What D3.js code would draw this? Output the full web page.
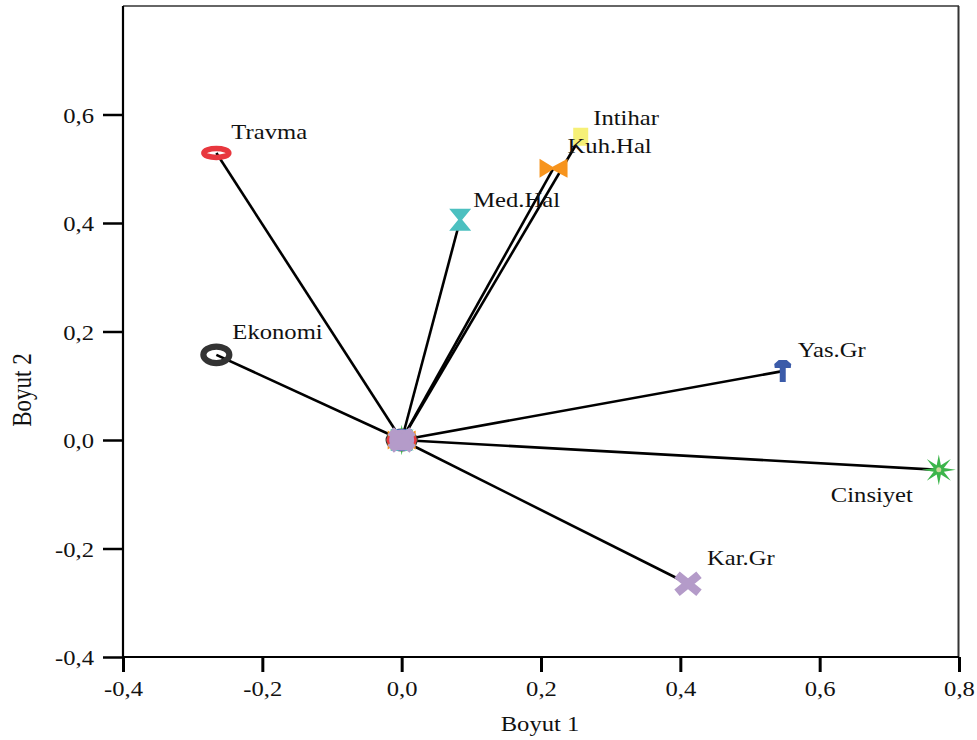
<!DOCTYPE html>
<html>
<head>
<meta charset="utf-8">
<script src="https://cdn.jsdelivr.net/npm/d3@7"></script>
<style>
  html, body { margin: 0; padding: 0; background: #fff; }
  svg { display: block; }
  text { font-family: "Liberation Serif", "Times New Roman", serif; fill: #111; }
</style>
</head>
<body>
<svg id="chart" width="977" height="740"></svg>
<script>
// Variable loadings on the two dimensions
const variables = ["Travma", "Ekonomi", "Med.Hal", "Kuh.Hal", "Intihar", "Yas.Gr", "Cinsiyet", "Kar.Gr"];
const dim1 = [-0.266, -0.266, 0.084, 0.218, 0.257, 0.547, 0.771, 0.411];
const dim2 = [0.529, 0.157, 0.406, 0.501, 0.559, 0.127, -0.055, -0.265];

const xTicks = [-0.4, -0.2, 0.0, 0.2, 0.4, 0.6, 0.8];
const yTicks = [-0.4, -0.2, 0.0, 0.2, 0.4, 0.6];
const xTitle = "Boyut 1";
const yTitle = "Boyut 2";

const svg = d3.select("#chart");
const plotL = 123, plotR = 959, plotT = 6, plotB = 657;
const x = d3.scaleLinear().domain([-0.4, 0.8]).range([plotL, plotR]);
const y = d3.scaleLinear().domain([-0.4, 0.8]).range([plotB, plotT]);

const locale = d3.formatLocale({ decimal: ",", thousands: ".", grouping: [3], currency: ["", ""], minus: "-" });
const fmt = locale.format(".1f");
const TX = 1.12; // horizontal widening of the serif lettering

// Frame: top and right edges
svg.append("line").attr("x1", plotL).attr("x2", plotR).attr("y1", plotT).attr("y2", plotT)
  .attr("stroke", "#666").attr("stroke-width", 2);
svg.append("line").attr("x1", plotR - 0.5).attr("x2", plotR - 0.5).attr("y1", plotT).attr("y2", plotB)
  .attr("stroke", "#333").attr("stroke-width", 2);

// Axes
const gx = svg.append("g").attr("transform", `translate(0,${plotB})`)
  .call(d3.axisBottom(x).tickValues(xTicks).tickFormat(fmt).tickSize(15).tickSizeOuter(0));
const gy = svg.append("g").attr("transform", `translate(${plotL},0)`)
  .call(d3.axisLeft(y).tickValues(yTicks).tickFormat(fmt).tickSize(20).tickSizeOuter(0));

gx.select(".domain").attr("stroke", "#000").attr("stroke-width", 2.2).attr("d", `M${plotL},0H${plotR}`);
gy.select(".domain").attr("stroke", "#000").attr("stroke-width", 2.2).attr("d", `M0,${plotT}V${plotB}`);
gx.selectAll(".tick line").attr("stroke", "#000").attr("stroke-width", 3);
gy.selectAll(".tick line").attr("stroke", "#000").attr("stroke-width", 2.5);
gx.selectAll(".tick text").attr("y", 39).attr("dy", null)
  .attr("transform", `scale(${TX},1)`).attr("font-size", 22)
  .style("font-family", "'Liberation Serif', serif").attr("fill", "#111");
gy.selectAll(".tick text").attr("x", -29 / TX).attr("y", 7.5).attr("dy", null)
  .attr("transform", `scale(${TX},1)`).attr("font-size", 22)
  .style("font-family", "'Liberation Serif', serif").attr("fill", "#111");

// Axis titles
svg.append("text").attr("transform", `translate(540,731) scale(${TX},1)`)
  .attr("text-anchor", "middle").attr("font-size", 22).text(xTitle);
svg.append("text").attr("transform", "translate(31,390) rotate(-90) scale(1,1.15)")
  .attr("text-anchor", "middle").attr("font-size", 23).text(yTitle);

// Vectors from the origin to each variable
const idx = d3.range(variables.length);
svg.append("g").selectAll("line").data(idx).join("line")
  .attr("x1", x(0)).attr("y1", y(0))
  .attr("x2", i => x(dim1[i])).attr("y2", i => y(dim2[i]))
  .attr("stroke", "#000").attr("stroke-width", 2.6);

// Marker drawings per variable
function starPath(ro, ri, sx, sy, n) {
  const pts = d3.range(n * 2).map(k => {
    const a = -Math.PI / 2 + k * Math.PI / n;
    const r = k % 2 === 0 ? ro : ri;
    return [Math.cos(a) * r * sx, Math.sin(a) * r * sy];
  });
  return "M" + pts.map(p => p.join(",")).join("L") + "Z";
}
const markers = {
  "Travma": g => g.append("ellipse").attr("rx", 12.5).attr("ry", 4.5)
    .attr("fill", "none").attr("stroke", "#e8373e").attr("stroke-width", 5.5),
  "Ekonomi": g => g.append("ellipse").attr("rx", 13).attr("ry", 8.3)
    .attr("fill", "none").attr("stroke", "#333").attr("stroke-width", 6.2),
  "Med.Hal": g => g.append("path").attr("d", "M-11,-11L11,-11L2,0L11,11L-11,11L-2,0Z").attr("fill", "#4cc0c0"),
  "Kuh.Hal": g => g.append("path").attr("d", "M-14,-9.5L-1,-1.5L14,-9.5L14,9.5L-1,1.5L-14,9.5Z").attr("fill", "#f7941d"),
  "Intihar": g => g.append("rect").attr("x", -7.5).attr("y", -9).attr("width", 15).attr("height", 18).attr("fill", "#f6f077"),
  "Yas.Gr": g => g.append("path")
    .attr("d", "M-3,11L-3,-3L-8,-3L-8.5,-7L-4,-11L4,-11L8.5,-7L8,-3L3,-3L3,11Z").attr("fill", "#3b5ba9"),
  "Cinsiyet": g => {
    g.append("path").attr("d", starPath(17, 5.5, 1, 0.9, 8)).attr("fill", "#3cb54a");
    g.append("circle").attr("r", 2.5).attr("fill", "#c9d79a");
  },
  "Kar.Gr": (g, w = 8.5) => {
    g.append("path").attr("d", "M-11,-9L11,9M-11,9L11,-9")
      .attr("stroke", "#b49bc9").attr("stroke-width", w).attr("fill", "none");
  }
};

// Markers stacked at the origin (purple cross drawn last, on top)
const originOrder = ["Ekonomi", "Med.Hal", "Intihar", "Kuh.Hal", "Cinsiyet", "Yas.Gr", "Travma"];
const originLayer = svg.append("g").attr("transform", `translate(${x(0)},${y(0)})`);
originOrder.forEach(v => markers[v](originLayer.append("g")));
originLayer.append("ellipse").attr("rx", 12.5).attr("ry", 10.5).attr("fill", "#b49bc9");
markers["Kar.Gr"](originLayer.append("g"), 10);

// Markers at the variable coordinates
idx.forEach(i => {
  const g = svg.append("g").attr("transform", `translate(${x(dim1[i])},${y(dim2[i])})`);
  markers[variables[i]](g);
});

// Labels
const labelOffset = {
  "Travma": [15, -14], "Ekonomi": [16, -16], "Med.Hal": [13, -13], "Kuh.Hal": [14, -15],
  "Intihar": [12.5, -12], "Yas.Gr": [15, -14], "Cinsiyet": [-108, 32], "Kar.Gr": [19, -19]
};
svg.append("g").selectAll("text").data(idx).join("text")
  .attr("transform", i => {
    const o = labelOffset[variables[i]];
    return `translate(${x(dim1[i]) + o[0]},${y(dim2[i]) + o[1]}) scale(${TX},1)`;
  })
  .attr("font-size", 22)
  .text(i => variables[i]);
</script>
</body>
</html>
